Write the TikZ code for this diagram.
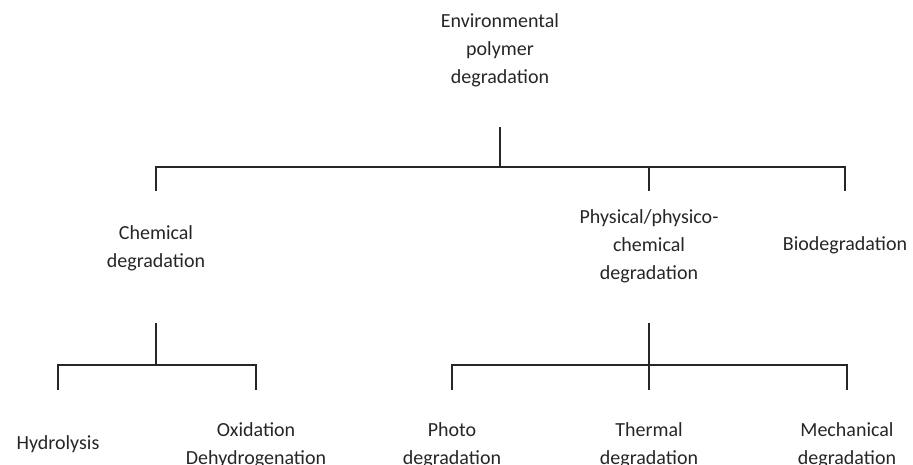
\documentclass[tikz,border=0pt]{standalone}
\usepackage{fontspec}
\setmainfont{Carlito}
\usetikzlibrary{positioning}

\begin{document}
\begin{tikzpicture}[
    x=1pt, y=-1pt,
    label/.style={align=center, inner sep=0pt, font=\fontsize{20}{28}\selectfont, text=black!85},
    branch/.style={draw=black!85, line width=1.4pt},
]
\useasboundingbox (0,0) rectangle (913,465);

% level heights of the tree lines
\coordinate (stemtop1) at (0,127);
\coordinate (bar1) at (0,167);
\coordinate (dropend1) at (0,191);
\coordinate (stemtop2) at (0,323);
\coordinate (bar2) at (0,365);
\coordinate (dropend2) at (0,390);

\node[label] (env) at (500,50) {Environmental\\polymer\\degradation};
\node[label] (chem) at (156,248) {Chemical\\degradation};
\node[label] (phys) at (649,246) {Physical/physico-\\chemical\\degradation};
\node[label] (bio) at (845,245) {Biodegradation};
\node[label] (hydro) at (58,444) {Hydrolysis};
\node[label] (oxid) at (256,445) {Oxidation\\Dehydrogenation};
\node[label] (photo) at (452,445) {Photo\\degradation};
\node[label] (therm) at (649,445) {Thermal\\degradation};
\node[label] (mech) at (847,445) {Mechanical\\degradation};

% top level
\draw[branch] (env |- stemtop1) -- (env |- bar1);
\draw[branch] (chem |- dropend1) |- (bio |- bar1) -- (bio |- dropend1);
\draw[branch] (phys |- bar1) -- (phys |- dropend1);

% chemical branch
\draw[branch] (chem |- stemtop2) -- (chem |- bar2);
\draw[branch] (hydro |- dropend2) |- (oxid |- bar2) -- (oxid |- dropend2);

% physical branch
\draw[branch] (phys |- stemtop2) -- (phys |- bar2);
\draw[branch] (photo |- dropend2) |- (mech |- bar2) -- (mech |- dropend2);
\draw[branch] (therm |- bar2) -- (therm |- dropend2);
\end{tikzpicture}
\end{document}
